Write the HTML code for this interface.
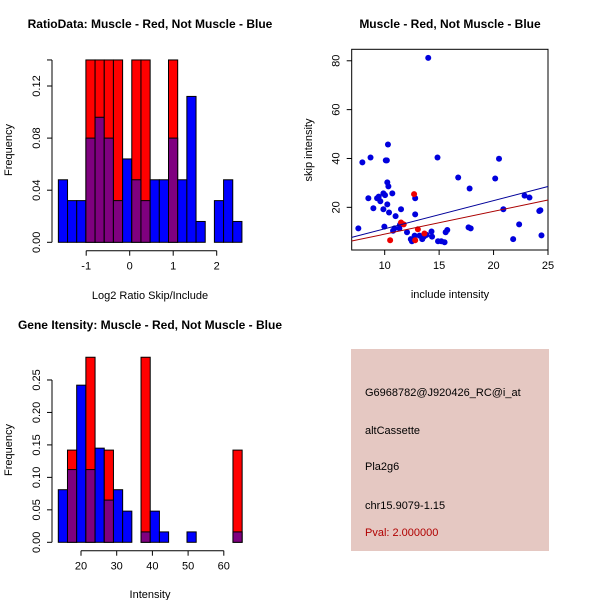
<!DOCTYPE html>
<html><head><meta charset="utf-8"><style>
body{margin:0;background:#fff}
svg{display:block;font-family:"Liberation Sans",sans-serif}
</style></head><body>
<svg id="c" width="600" height="600" xmlns="http://www.w3.org/2000/svg">
<rect width="600" height="600" fill="#fff"/>
<g id="p1"></g>
<g id="p2"></g>
<g id="p3"></g>
<g id="p4">
<rect x="351" y="349" width="198" height="202" fill="#e5c8c2"/>
<text x="365" y="396" font-size="11">G6968782@J920426_RC@i_at</text>
<text x="365" y="434" font-size="11">altCassette</text>
<text x="365" y="470" font-size="11">Pla2g6</text>
<text x="365" y="509" font-size="11">chr15.9079-1.15</text>
<text x="365" y="536" font-size="11" fill="#b00000">Pval: 2.000000</text>
</g>
</svg>
<script>
// ---- Panel 1 data ----
const ratioBinStart = -1.64;
const ratioBinWidth = 0.211;
const ratioBlue = [0.048,0.032,0.032,0.08,0.096,0.08,0.032,0.064,0.048,0.032,0.048,0.048,0.08,0.048,0.112,0.016,0,0.032,0.048,0.016];
const ratioRed  = [0,0,0,0.14,0.14,0.14,0.14,0,0.14,0.14,0,0,0.14,0,0,0,0,0,0,0];
const ratioXTicks = [-1,0,1,2];
const ratioYTicks = [0,0.04,0.08,0.12];
const ratioYLabels = ["0.00","0.04","0.08","0.12"];
// ---- Panel 2 data ----
const blueX = [7.58,7.95,8.7,8.5,8.96,9.3,9.45,9.6,9.88,10.03,9.88,9.97,10.1,10.2,10.3,10.24,10.34,10.24,10.4,10.7,10.77,10.9,11,11.35,11.5,11.4,12.05,12.4,12.5,12.8,12.8,12.75,13.2,13.45,13.6,13.85,14,14.3,14.35,14.85,14.9,15.2,15.5,15.6,15.75,16.75,17.8,17.7,17.9,20.15,20.5,20.9,21.8,22.35,22.85,23.3,24.2,24.3,24.4];
const blueY = [11.4,38.4,40.4,23.7,19.6,23.7,24.4,22.5,25.7,25,19.2,12.1,39.2,39.2,45.7,30.2,28.6,21.2,17.9,25.7,10.4,11.4,16.4,11.4,19.2,12.8,9.8,7,6.1,23.7,17.1,8.4,8.4,7,8,8.7,81.2,10.1,8,40.4,6.1,6.1,5.7,9.8,10.7,32.2,27.7,11.8,11.4,31.8,39.9,19.2,7,13,24.8,24,18.5,18.8,8.5];
const redX = [10.5,12.7,11.5,11.75,13.05,12.8,13.65];
const redY = [6.5,25.4,13.8,13,11,6.5,9.3];
const blueFit = [-0.34,1.154]; // intercept, slope
const redFit = [-0.3,0.932];
const scatXTicks = [10,15,20,25];
const scatYTicks = [20,40,60,80];
// ---- Panel 3 data ----
const geneBinStart = 13.64;
const geneBinWidth = 2.575;
const geneBlue = [0.081,0.112,0.242,0.112,0.145,0.065,0.081,0.048,0,0.016,0.048,0.016,0,0,0.016,0,0,0,0,0.016];
const geneRed  = [0,0.142,0,0.285,0,0.142,0,0,0,0.285,0,0,0,0,0,0,0,0,0,0.142];
const geneXTicks = [20,30,40,50,60];
const geneYTicks = [0,0.05,0.1,0.15,0.2,0.25];
const geneYLabels = ["0.00","0.05","0.10","0.15","0.20","0.25"];

const NS="http://www.w3.org/2000/svg";
function mk(parent,tag,attrs,txt){const e=document.createElementNS(NS,tag);for(const k in attrs)e.setAttribute(k,attrs[k]);if(txt!==undefined)e.textContent=txt;parent.appendChild(e);return e;}

function hist(g,o){
  const sx=v=>o.x0px+(v-o.x0)*o.kx, sy=v=>o.y0px-v*o.ky;
  for(let i=0;i<o.blue.length;i++){
    const a=sx(o.start+i*o.w), b=sx(o.start+(i+1)*o.w);
    const bl=o.blue[i], rd=o.red[i];
    const top=Math.max(bl,rd), ov=Math.min(bl,rd);
    if(top<=0) continue;
    const r=mk(g,'rect',{x:a,y:sy(top),width:b-a,height:sy(0)-sy(top),fill:rd>bl?'#ff0000':'#0000ff',stroke:'#000','stroke-width':1});
    
    
    if(ov>0){
      const p=mk(g,'rect',{x:a,y:sy(ov),width:b-a,height:sy(0)-sy(ov),fill:'#7f007f',stroke:'#000','stroke-width':1});
      
      
    }
  }
  const yt=o.yTicks;
  const ya=mk(g,'line',{x1:o.axX,x2:o.axX,y1:sy(yt[0]),y2:sy(o.yMax),stroke:'#000'});
  
  
  yt.concat([o.yMax]).forEach(v=>mk(g,'line',{x1:o.axX-5,x2:o.axX,y1:sy(v),y2:sy(v),stroke:'#000'}));
  yt.forEach((v,i)=>{const t=mk(g,'text',{x:0,y:0,'font-size':11,'text-anchor':'middle',transform:`translate(${o.axX-12},${sy(v)}) rotate(-90)`},o.yLabels[i]);
    
    });
  const xt=o.xTicks;
  const xa=mk(g,'line',{x1:sx(xt[0]),x2:sx(xt[xt.length-1]),y1:o.axY,y2:o.axY,stroke:'#000'});
  
  
  xt.forEach(v=>{mk(g,'line',{x1:sx(v),x2:sx(v),y1:o.axY,y2:o.axY+5,stroke:'#000'});
    const t=mk(g,'text',{x:sx(v),y:o.axY+19,'font-size':11,'text-anchor':'middle'},String(v));
    
    });
}

const g1=document.getElementById('p1');
hist(g1,{x0:0,x0px:129.7,kx:43.5,y0px:242.3,ky:1302.5,blue:ratioBlue,red:ratioRed,start:ratioBinStart,w:ratioBinWidth,axX:52,axY:250.7,yTicks:ratioYTicks,yLabels:ratioYLabels,yMax:0.14,xTicks:ratioXTicks});
const g3=document.getElementById('p3');
hist(g3,{x0:20,x0px:81,kx:3.57,y0px:542.3,ky:649.3,blue:geneBlue,red:geneRed,start:geneBinStart,w:geneBinWidth,axX:52,axY:550.7,yTicks:geneYTicks,yLabels:geneYLabels,yMax:0.25,xTicks:geneXTicks});

[[g1,150,28,'RatioData: Muscle - Red, Not Muscle - Blue','ratio-title'],[g3,150,329,'Gene Itensity: Muscle - Red, Not Muscle - Blue','gene-title']].forEach(a=>{
  const t=mk(a[0],'text',{x:a[1],y:a[2],'font-size':12,'font-weight':'bold','text-anchor':'middle'},a[3]);
  
  });
[[g1,150,299,'Log2 Ratio Skip/Include','ratio-x-title'],[g3,150,598,'Intensity','gene-x-title']].forEach(a=>{
  const t=mk(a[0],'text',{x:a[1],y:a[2],'font-size':11,'text-anchor':'middle'},a[3]);
  
  });
[[g1,150,'ratio-y-title'],[g3,450,'gene-y-title']].forEach(a=>{
  const t=mk(a[0],'text',{x:0,y:0,'font-size':11,'text-anchor':'middle',transform:`translate(12,${a[1]}) rotate(-90)`},'Frequency');
  
  });

const g2=document.getElementById('p2');
const L=351.7,R=548,T=49.3,B=250;
const xmin=6.97,xmax=25,ymin=2.53,ymax=84.7;
const sx=v=>L+(v-xmin)/(xmax-xmin)*(R-L), sy=v=>B-(v-ymin)/(ymax-ymin)*(B-T);
const box=mk(g2,'rect',{x:L,y:T,width:R-L,height:B-T,fill:'none',stroke:'#000'});


blueX.forEach((x,i)=>{const c=mk(g2,'circle',{cx:sx(x),cy:sy(blueY[i]),r:3,fill:'#0000dd'});
  
  });
redX.forEach((x,i)=>{const c=mk(g2,'circle',{cx:sx(x),cy:sy(redY[i]),r:3,fill:'#ee0000'});
  
  });
[[blueFit,'#000099','fit-line-not-muscle'],[redFit,'#aa0000','fit-line-muscle']].forEach(a=>{
  const f=a[0];const l=mk(g2,'line',{x1:sx(xmin),y1:sy(f[0]+f[1]*xmin),x2:sx(xmax),y2:sy(f[0]+f[1]*xmax),stroke:a[1],'stroke-width':1});
  
  });
scatXTicks.forEach(v=>{mk(g2,'line',{x1:sx(v),x2:sx(v),y1:B,y2:B+5,stroke:'#000'});
  const t=mk(g2,'text',{x:sx(v),y:B+19,'font-size':11,'text-anchor':'middle'},String(v));
  
  });
scatYTicks.forEach(v=>{mk(g2,'line',{x1:L-5,x2:L,y1:sy(v),y2:sy(v),stroke:'#000'});
  const t=mk(g2,'text',{x:0,y:0,'font-size':11,'text-anchor':'middle',transform:`translate(${L-12},${sy(v)}) rotate(-90)`},String(v));
  
  });
let t=mk(g2,'text',{x:450,y:28,'font-size':12,'font-weight':'bold','text-anchor':'middle'},'Muscle - Red, Not Muscle - Blue');


t=mk(g2,'text',{x:450,y:298,'font-size':11,'text-anchor':'middle'},'include intensity');


t=mk(g2,'text',{x:0,y:0,'font-size':11,'text-anchor':'middle',transform:'translate(312,150) rotate(-90)'},'skip intensity');


</script>
</body></html>
